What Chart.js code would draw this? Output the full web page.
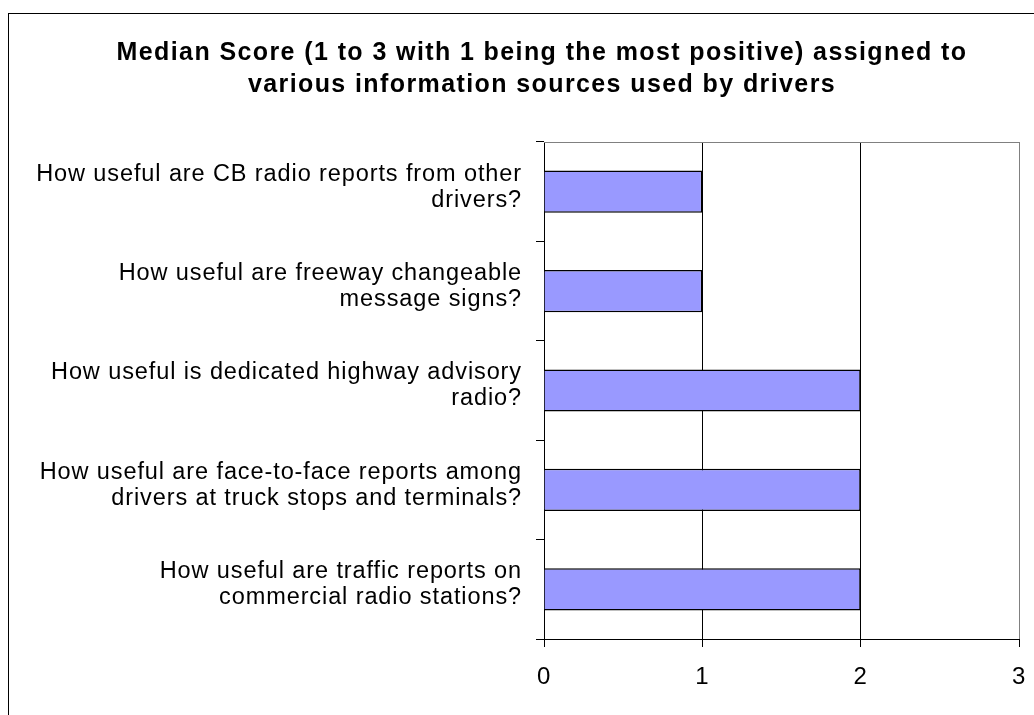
<!DOCTYPE html>
<html>
<head>
<meta charset="utf-8">
<script src="https://cdn.jsdelivr.net/npm/chart.js@4/dist/chart.umd.min.js"></script>
<style>
  html, body { margin: 0; padding: 0; width: 1034px; height: 715px; overflow: hidden; background: #fff; }
  #wrap { position: absolute; left: 8px; top: 13px; width: 1066px; height: 702px; border: 1px solid #000; }
  #title {
    position: absolute; left: 0; top: 21px; width: 100%;
    text-align: center; font: bold 25px/32px 'Liberation Sans', Arial, sans-serif;
    letter-spacing: 1.4px; color: #000;
  }
  canvas { position: absolute; left: 0; top: 0; }
</style>
</head>
<body>
<div id="wrap">
  <canvas id="chart" width="1066" height="702"></canvas>
  <div id="title"></div>
</div>
<script>
// data
const questions = [
  ["How useful are CB radio reports from other", "drivers?"],
  ["How useful are freeway changeable", "message signs?"],
  ["How useful is dedicated highway advisory", "radio?"],
  ["How useful are face-to-face reports among", "drivers at truck stops and terminals?"],
  ["How useful are traffic reports on", "commercial radio stations?"]
];
const medianScores = [1, 1, 2, 2, 2];
const titleLines = [
  "Median Score (1 to 3 with 1 being the most positive) assigned to",
  "various information sources used by drivers"
];
const scoreMin = 0;
const scoreMax = 3;

document.getElementById("title").innerHTML = titleLines.join("<br>");

// the original text is a bit wider than Arial, spread it a little
const wideText = {
  id: "wideText",
  beforeUpdate(chart) { chart.ctx.letterSpacing = "0.9px"; },
  beforeDraw(chart) { chart.ctx.letterSpacing = "0.9px"; }
};

// gray line on top of the plot area
const plotFrame = {
  id: "plotFrame",
  afterDraw(chart) {
    const a = chart.chartArea;
    const ctx = chart.ctx;
    ctx.save();
    ctx.strokeStyle = "#808080";
    ctx.lineWidth = 1;
    ctx.beginPath();
    ctx.moveTo(a.left, a.top + 0.5);
    ctx.lineTo(a.right, a.top + 0.5);
    ctx.stroke();
    ctx.restore();
  }
};

Chart.defaults.font.family = "'Liberation Sans', Arial, sans-serif";
Chart.defaults.color = "#000";

new Chart(document.getElementById("chart"), {
  type: "bar",
  data: {
    labels: questions,
    datasets: [{
      data: medianScores,
      backgroundColor: "#9999FF",
      borderColor: "#000",
      borderWidth: 1.5,
      barPercentage: 0.425,
      categoryPercentage: 1
    }]
  },
  options: {
    indexAxis: "y",
    responsive: false,
    animation: false,
    layout: { padding: { left: 0, right: 56, top: 128, bottom: 0 } },
    plugins: {
      legend: { display: false },
      tooltip: { enabled: false },
      title: { display: false }
    },
    scales: {
      x: {
        min: scoreMin,
        max: scoreMax,
        ticks: { stepSize: 1, font: { size: 24 }, padding: 16 },
        grid: {
          color: (c) => c.tick.value === 3 ? "#808080" : (c.tick.value === 0 ? "rgba(0,0,0,0)" : "#000"),
          tickColor: "#000",
          tickLength: 8
        },
        border: { color: "#000" },
        afterFit: (s) => { s.height = 77; }
      },
      y: {
        ticks: { font: { size: 23.5, lineHeight: 26 / 23.5 }, padding: 14, labelOffset: -4.5 },
        grid: {
          offset: true,
          drawOnChartArea: false,
          tickColor: "#000",
          tickLength: 8
        },
        border: { color: "#000" },
        afterFit: (s) => { s.width = 535; }
      }
    }
  },
  plugins: [wideText, plotFrame]
});
</script>
</body>
</html>
